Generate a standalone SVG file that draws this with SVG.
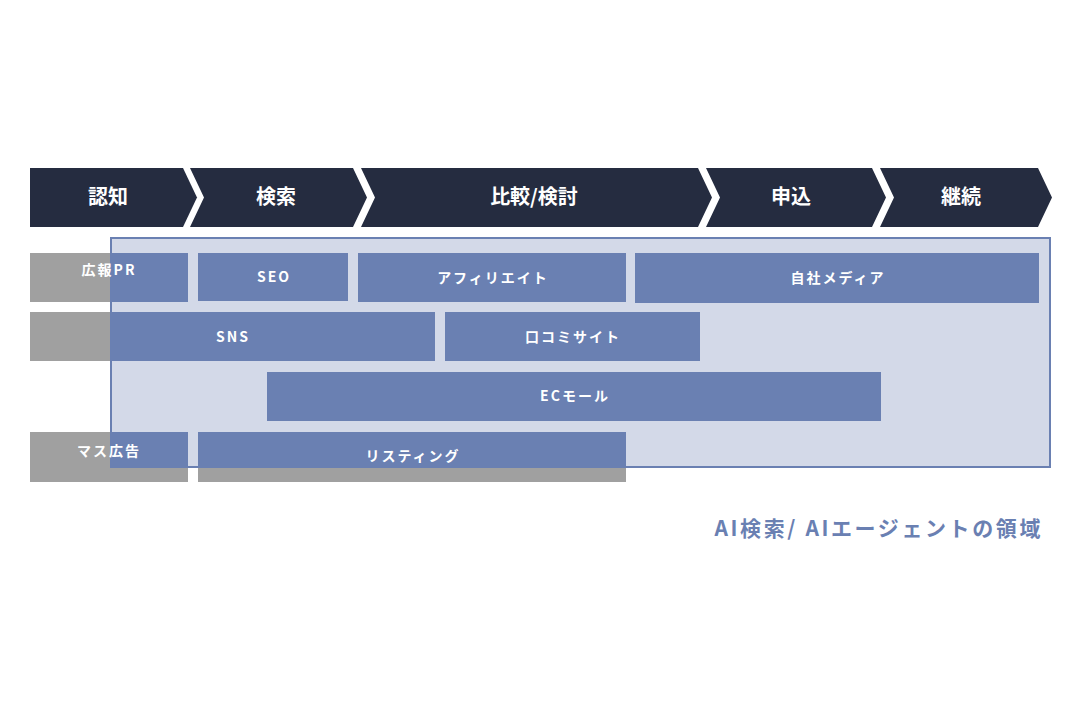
<svg xmlns="http://www.w3.org/2000/svg" width="1080" height="720" viewBox="0 0 1080 720">
<style>
.stage{fill:#252c40}
.st{font-family:"Noto Sans CJK JP","Noto Sans",sans-serif;font-weight:bold;font-size:20px;fill:#fff;text-anchor:middle}
.gray{fill:#a0a0a0}
.blue{fill:#6a80b2}
.lb{font-family:"Noto Sans CJK JP","Noto Sans",sans-serif;font-weight:bold;font-size:14px;fill:#fff;text-anchor:middle;letter-spacing:2px}
.cap{font-family:"Noto Sans CJK JP","Noto Sans",sans-serif;font-weight:bold;font-size:21px;fill:#6a80b2;text-anchor:end;letter-spacing:2.6px}
</style>
<rect width="1080" height="720" fill="#fff"/>
<g id="stages">
<g id="s1"><polygon class="stage" points="30,168 183,168 197,197.5 183,227 30,227"/><text class="st" x="108" y="204">認知</text></g>
<g id="s2"><polygon class="stage" points="190,168 353,168 367,197.5 353,227 190,227 204,197.5"/><text class="st" x="276" y="204">検索</text></g>
<g id="s3"><polygon class="stage" points="361,168 698,168 712,197.5 698,227 361,227 375,197.5"/><text class="st" x="534" y="204">比較/検討</text></g>
<g id="s4"><polygon class="stage" points="706,168 872,168 886,197.5 872,227 706,227 720,197.5"/><text class="st" x="791" y="204">申込</text></g>
<g id="s5"><polygon class="stage" points="880,168 1038,168 1052,197.5 1038,227 880,227 894,197.5"/><text class="st" x="961" y="204">継続</text></g>
</g>
<g id="gray-boxes">
<rect class="gray" x="30" y="253" width="158" height="49"/>
<rect class="gray" x="30" y="312" width="81" height="49"/>
<rect class="gray" x="30" y="432" width="158" height="50"/>
<rect class="gray" x="198" y="432" width="428" height="50"/>
</g>
<g id="ai-region">
<rect x="111" y="238" width="939" height="229" fill="#d3d9e8" stroke="#6a80b2" stroke-width="2"/>
</g>
<g id="channels">
<g id="pr"><rect class="blue" x="111" y="253" width="77" height="49"/><text class="lb" x="109" y="275">広報PR</text></g>
<g id="seo"><rect class="blue" x="198" y="253" width="150" height="48"/><text class="lb" x="274" y="282">SEO</text></g>
<g id="aff"><rect class="blue" x="358" y="253" width="268" height="49"/><text class="lb" x="493" y="283">アフィリエイト</text></g>
<g id="owned"><rect class="blue" x="635" y="253" width="404" height="50"/><text class="lb" x="838" y="283">自社メディア</text></g>
<g id="sns"><rect class="blue" x="111" y="312" width="324" height="49"/><text class="lb" x="233" y="342">SNS</text></g>
<g id="review"><rect class="blue" x="445" y="312" width="255" height="49"/><text class="lb" x="573" y="342">口コミサイト</text></g>
<g id="ec"><rect class="blue" x="267" y="372" width="614" height="49"/><text class="lb" x="575" y="401">ECモール</text></g>
<g id="mass"><rect class="blue" x="111" y="432" width="77" height="36"/><text class="lb" x="109" y="456">マス広告</text></g>
<g id="listing"><rect class="blue" x="198" y="432" width="428" height="36"/><text class="lb" x="413" y="461">リスティング</text></g>
</g>
<g id="caption"><text class="cap" x="1043" y="536">AI検索/ AIエージェントの領域</text></g>
<g id="connectors"></g>
</svg>
